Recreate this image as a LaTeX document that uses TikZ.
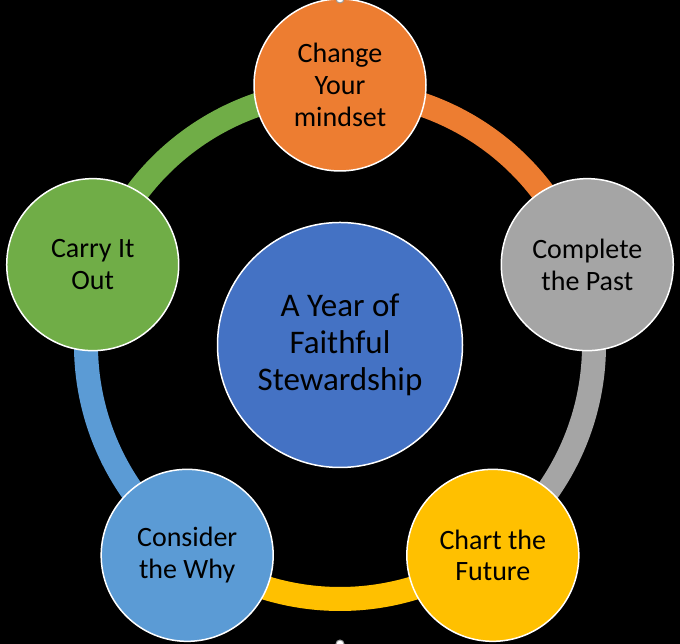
\documentclass[tikz,border=0pt]{standalone}
\usepackage{fontspec}
\setmainfont{Carlito}
\definecolor{orangeC}{HTML}{ED7D31}
\definecolor{grayC}{HTML}{A5A5A5}
\definecolor{yellowC}{HTML}{FFC000}
\definecolor{lblueC}{HTML}{5B9BD5}
\definecolor{greenC}{HTML}{70AD47}
\definecolor{dblueC}{HTML}{4472C4}
\begin{document}
\begin{tikzpicture}[x=1pt,y=1pt,
  outer/.style={circle,draw=white,line width=1.5pt,minimum size=172pt,inner sep=0pt,
    align=center,text=black,font=\fontsize{28}{31.7}\selectfont},
  hub/.style={circle,draw=white,line width=1.5pt,minimum size=245pt,inner sep=0pt,
    align=center,text=black,fill=dblueC,font=\fontsize{33}{36.7}\selectfont},
  ringarc/.style={line width=24pt},
  handle/.style={circle,draw=gray!80,fill=white,line width=1pt,minimum size=8pt,inner sep=0pt}]
\fill[black] (0,0) rectangle (680,644);
\useasboundingbox (0,0) rectangle (680,644);
\coordinate (c) at (340,299);
% ring arcs
\foreach \a/\col in {90/orangeC,18/grayC,-54/yellowC,-126/lblueC,162/greenC}
  \draw[ringarc,\col] (c) ++(\a:254) arc[start angle=\a,end angle=\a-72,radius=254];
% outer circles
\node[outer,fill=orangeC] (change) at ([shift={(90:260)}]c) {Change\\Your\\mindset};
\node[outer,fill=grayC] (complete) at ([shift={(18:260)}]c) {Complete\\the Past};
\node[outer,fill=yellowC] (chart) at ([shift={(-54:260)}]c) {Chart the\\Future};
\node[outer,fill=lblueC] (consider) at ([shift={(-126:260)}]c) {Consider\\the Why};
\node[outer,fill=greenC] (carry) at ([shift={(162:260)}]c) {Carry It\\Out};
% hub
\node[hub] (hubnode) at (c) {A Year of\\Faithful\\Stewardship};
% selection handles
\node[handle] (htop) at (340,645) {};
\node[handle] (hbot) at (340,0) {};
\end{tikzpicture}
\end{document}
